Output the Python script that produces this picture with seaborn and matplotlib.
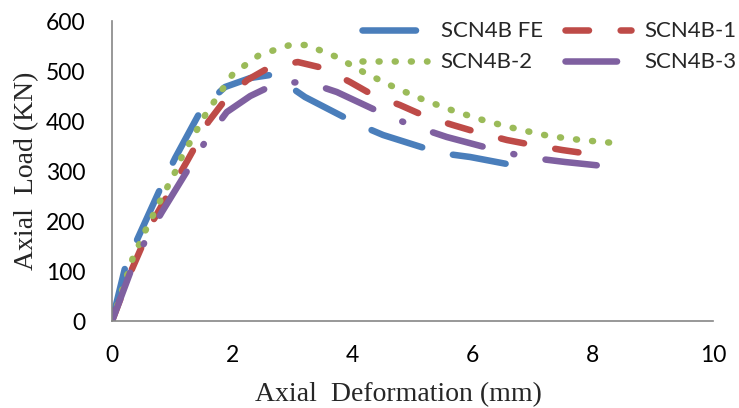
import matplotlib
matplotlib.use("Agg")
import matplotlib.pyplot as plt
import seaborn as sns
import pandas as pd

# values
fe_x = [0, 0.22, 0.43, 0.83, 1.05, 1.50, 1.88, 2.30, 2.63, 2.80, 3.21, 4.08, 4.51, 5.46, 5.96, 6.66]
fe_y = [0, 108, 166, 272, 326, 426, 468, 486, 492, 482, 448, 394, 372, 336, 328, 312]

b1_x = [0, 0.30, 0.68, 1.25, 1.38, 1.60, 1.88, 2.25, 2.60, 3.09, 3.51, 3.96, 4.34, 4.79, 5.24, 5.67,
        6.12, 6.57, 7.00, 7.49, 7.95]
b1_y = [0, 95, 200, 320, 348, 398, 442, 482, 506, 518, 506, 478, 452, 432, 408, 392,
        376, 362, 352, 342, 334]

b2_x = [0, 0.34, 0.56, 0.80, 1.05, 1.16, 1.56, 2.01, 2.45, 2.96, 3.24, 3.74, 4.21, 4.69, 5.19, 5.69,
        6.22, 6.74, 7.27, 7.80, 8.36]
b2_y = [0, 124, 182, 240, 298, 328, 414, 494, 532, 552, 552, 528, 496, 468, 442, 420,
        400, 384, 370, 362, 356]

b3_x = [0, 0.33, 0.56, 0.83, 1.33, 1.60, 1.91, 2.30, 2.75, 3.24, 3.74, 4.63, 5.07, 5.57, 6.51, 7.00, 7.54, 8.34]
b3_y = [0, 106, 162, 218, 316, 368, 418, 450, 476, 478, 458, 408, 388, 368, 338, 326, 318, 308]

labels = ["SCN4B FE", "SCN4B-1", "SCN4B-2", "SCN4B-3"]
colors = ["#4A7EBB", "#BE4B48", "#9BBB59", "#7F60A0"]
dash_styles = [(8.2, 4.85), (3.6, 4.85), (0.15, 2.32), (7.9, 4.85, 0.15, 4.85)]

sns.set_theme(style="white")
plt.rcParams["font.family"] = ["Lato", "DejaVu Sans"]

fig = plt.figure(figsize=(7.39, 4.08), dpi=100)
ax = fig.add_axes([0.1516, 0.2132, 0.8133, 0.7353])

series = [(fe_x, fe_y), (b1_x, b1_y), (b2_x, b2_y), (b3_x, b3_y)]
for (xs, ys), lab, col, dsh in zip(series, labels, colors, dash_styles):
    df = pd.DataFrame({"x": xs, "y": ys})
    sns.lineplot(data=df, x="x", y="y", sort=False, estimator=None, color=col,
                 linewidth=4.7, label=lab, ax=ax, legend=False)
    line = ax.lines[-1]
    line.set_dashes(dsh)
    line.set_dash_capstyle("round")
    line.set_solid_capstyle("round")

ax.set_xlim(0, 10)
ax.set_ylim(0, 600)
ax.set_xticks([0, 2, 4, 6, 8, 10])
ax.set_yticks([0, 100, 200, 300, 400, 500, 600])

grey = "#868686"
for s in ["top", "right"]:
    ax.spines[s].set_visible(False)
for s in ["left", "bottom"]:
    ax.spines[s].set_color(grey)
    ax.spines[s].set_linewidth(1.2)
ax.tick_params(axis="both", direction="in", length=5, width=1.2, color=grey,
               labelsize=16.5, labelcolor="black", pad=19)
ax.tick_params(axis="x", pad=17)

ax.set_xlabel("Axial  Deformation (mm)", family="Liberation Serif", fontsize=20)
ax.set_ylabel("Axial  Load (KN)", family="Liberation Serif", fontsize=20)
ax.xaxis.set_label_coords(0.477, -0.203)
ax.yaxis.set_label_coords(-0.122, 0.5)

# legend: two rows, FE / -1 on top, -2 / -3 below
lines = ax.lines
order = [0, 2, 1, 3]
leg = fig.legend([lines[i] for i in order], [labels[i] for i in order], ncol=2,
                 loc="upper right", bbox_to_anchor=(1.011, 0.975), frameon=False,
                 fontsize=16, handlelength=2.95, handletextpad=0.6, columnspacing=1.0,
                 labelspacing=0.5, borderpad=0)

fig.savefig("out.png", dpi=100)
